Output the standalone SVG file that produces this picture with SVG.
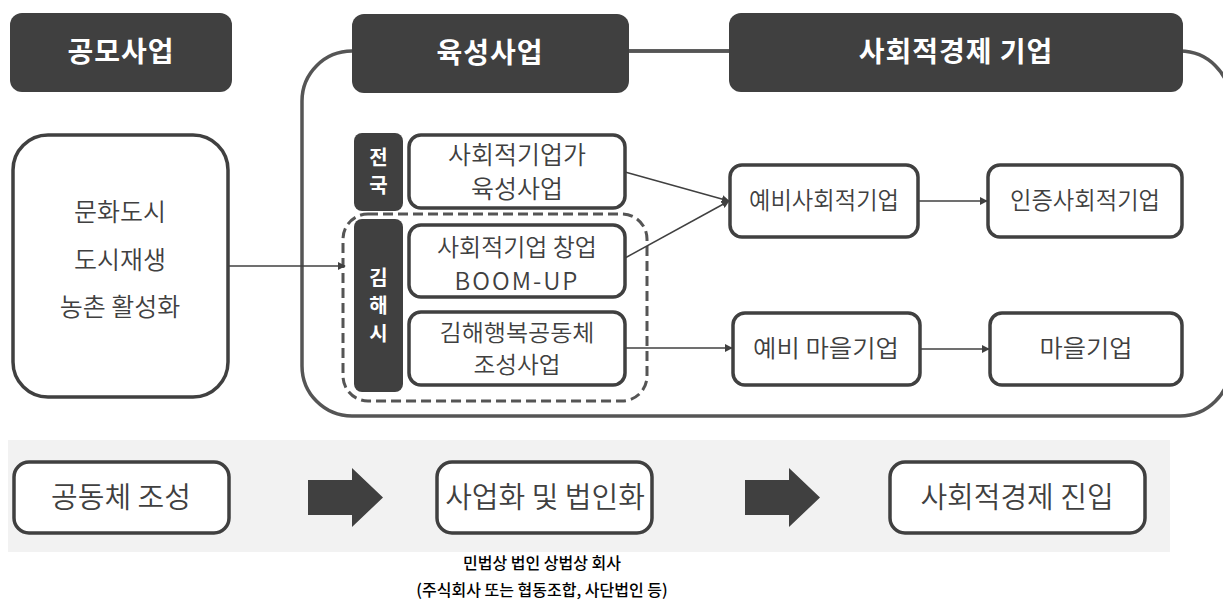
<svg xmlns="http://www.w3.org/2000/svg" width="1223" height="606" viewBox="0 0 1223 606">
<style>
.hd{fill:#404040}
.hdt{font-family:"Noto Sans CJK KR","Noto Sans",sans-serif;font-weight:700;font-size:28px;fill:#fff;text-anchor:middle;letter-spacing:1px}
.tag{fill:#404040}
.tagt{font-family:"Noto Sans CJK KR",sans-serif;font-weight:700;font-size:20px;fill:#fff;text-anchor:middle}
.bx{fill:#fff;stroke:#404040;stroke-width:3.5}
.t{font-family:"Noto Sans CJK KR","Noto Sans",sans-serif;font-weight:350;fill:#404040;text-anchor:middle}
.cap{font-family:"Noto Sans CJK KR",sans-serif;font-weight:500;font-size:16px;fill:#000;text-anchor:middle}
.ln{fill:none;stroke:#404040;stroke-width:1.5}
.big{fill:#404040}
</style>
<defs>
<marker id="ah" viewBox="0 0 10 10" refX="9" refY="5" markerWidth="8" markerHeight="8" markerUnits="userSpaceOnUse" orient="auto"><path d="M0,0 L10,5 L0,10 Z" fill="#404040"/></marker>
</defs>
<g id="container"><rect x="302" y="51" width="928" height="365" rx="50" fill="none" stroke="#555" stroke-width="3.5"/><line x1="629" y1="51" x2="729" y2="51" stroke="#555" stroke-width="3.5"/></g>
<g id="h-gongmo"><rect class="hd" x="10" y="13" width="222" height="79" rx="12"/><text class="hdt" x="121" y="62">공모사업</text></g>
<g id="h-yukseong"><rect class="hd" x="352" y="14" width="277" height="79" rx="12"/><text class="hdt" x="490" y="63">육성사업</text></g>
<g id="h-social"><rect class="hd" x="729" y="13" width="454" height="79" rx="12"/><text class="hdt" x="956" y="62">사회적경제 기업</text></g>
<g id="n-left"><rect class="bx" x="13" y="135" width="215" height="262" rx="35"/>
<text class="t" font-size="25" x="120" y="221">문화도시</text>
<text class="t" font-size="25" x="120" y="269">도시재생</text>
<text class="t" font-size="25" x="120" y="316">농촌 활성화</text></g>
<g id="n-gimhae-group"><rect x="343" y="214" width="304" height="187" rx="25" fill="none" stroke="#555" stroke-width="3" stroke-dasharray="10 5"/></g>
<g id="tag-national"><rect class="tag" x="354" y="133" width="49" height="78" rx="8"/><text class="tagt" x="378.5" y="165">전</text><text class="tagt" x="378.5" y="193">국</text></g>
<g id="tag-gimhae"><rect class="tag" x="354" y="219" width="49" height="173" rx="8"/><text class="tagt" x="378.5" y="285">김</text><text class="tagt" x="378.5" y="313">해</text><text class="tagt" x="378.5" y="341">시</text></g>
<g id="n-b1"><rect class="bx" x="409" y="135" width="216" height="73" rx="12"/><text class="t" font-size="25" x="517" y="164">사회적기업가</text><text class="t" font-size="25" x="517" y="198">육성사업</text></g>
<g id="n-b2"><rect class="bx" x="409" y="225" width="216" height="72" rx="12"/><text class="t" font-size="24" x="517" y="256">사회적기업 창업</text><text class="t" font-size="24" x="517" y="290" letter-spacing="2">BOOM-UP</text></g>
<g id="n-b3"><rect class="bx" x="409" y="312" width="216" height="73" rx="12"/><text class="t" font-size="23" x="517" y="341" textLength="155" lengthAdjust="spacingAndGlyphs">김해행복공동체</text><text class="t" font-size="23" x="517" y="373" textLength="87" lengthAdjust="spacingAndGlyphs">조성사업</text></g>
<g id="n-pre-social"><rect class="bx" x="730" y="165" width="188" height="72" rx="12"/><text class="t" font-size="24" x="824" y="209" textLength="150" lengthAdjust="spacingAndGlyphs">예비사회적기업</text></g>
<g id="n-cert-social"><rect class="bx" x="988" y="165" width="194" height="72" rx="12"/><text class="t" font-size="24" x="1085" y="209" textLength="150" lengthAdjust="spacingAndGlyphs">인증사회적기업</text></g>
<g id="n-pre-village"><rect class="bx" x="733" y="313" width="187" height="72" rx="12"/><text class="t" font-size="24" x="826" y="357" textLength="146" lengthAdjust="spacingAndGlyphs">예비 마을기업</text></g>
<g id="n-village"><rect class="bx" x="990" y="313" width="192" height="72" rx="12"/><text class="t" font-size="24" x="1086" y="357" textLength="93" lengthAdjust="spacingAndGlyphs">마을기업</text></g>
<g id="connectors">
<line class="ln" x1="228" y1="266" x2="345" y2="266" marker-end="url(#ah)"/>
<line class="ln" x1="625" y1="172" x2="729" y2="201" marker-end="url(#ah)"/>
<line class="ln" x1="625" y1="258" x2="729" y2="201" marker-end="url(#ah)"/>
<line class="ln" x1="918" y1="201" x2="987" y2="201" marker-end="url(#ah)"/>
<line class="ln" x1="625" y1="348" x2="732" y2="348" marker-end="url(#ah)"/>
<line class="ln" x1="920" y1="349" x2="989" y2="349" marker-end="url(#ah)"/>
</g>
<g id="band"><rect x="8" y="440" width="1162" height="112" fill="#f2f2f2"/></g>
<g id="s-community"><rect class="bx" x="14" y="462" width="215" height="71" rx="15"/><text class="t" font-size="29" x="121" y="508">공동체 조성</text></g>
<g id="s-corp"><rect class="bx" x="437" y="462" width="215" height="71" rx="15"/><text class="t" font-size="29" x="545" y="508">사업화 및 법인화</text></g>
<g id="s-enter"><rect class="bx" x="890" y="462" width="255" height="71" rx="15"/><text class="t" font-size="29" x="1017" y="508">사회적경제 진입</text></g>
<g id="big-arrows"><path class="big" d="M308,480 H352 V468 L383,497.5 L352,527 V515 H308 Z"/><path class="big" d="M745,480 H789 V468 L820,497.5 L789,527 V515 H745 Z"/></g>
<g id="caption"><text class="cap" x="542" y="569">민법상 법인 상법상 회사</text><text class="cap" x="542" y="596">(주식회사 또는 협동조합, 사단법인 등)</text></g>
</svg>
